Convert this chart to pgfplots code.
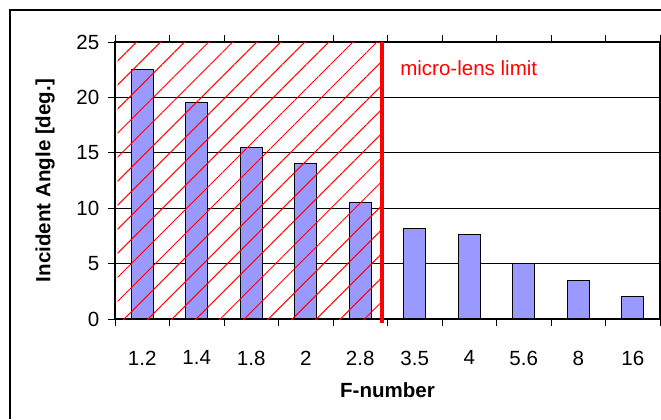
\documentclass[border=0pt]{standalone}
\usepackage{fontspec}
\setmainfont{Liberation Sans}
\usepackage{pgfplots}
\pgfplotsset{compat=1.18}
\usetikzlibrary{patterns.meta}
\definecolor{barblue}{RGB}{153,153,255}

\begin{document}
\begin{tikzpicture}
    % page size 661x419 px, 1px = 0.75pt
    \useasboundingbox (-86.25pt,-75pt) rectangle (409.5pt,239.25pt);
    \draw[line width=0.8pt] (-78.75pt,-75pt) -- (-78.75pt,231.75pt) -- (409.5pt,231.75pt);
    \begin{axis}[
        at={(0,0)}, anchor=south west,
        scale only axis,
        width=408.75pt, height=207.75pt,
        ymin=0, ymax=25,
        xmin=-0.5, xmax=9.5,
        ytick={0,5,...,25},
        xtick={-0.5,0.5,...,9.5},
        x tick label as interval,
        xticklabels={1.2,1.4,1.8,2,2.8,3.5,4,5.6,8,16},
        tick align=outside,
        major tick length=5.25pt,
        tick style={black, line width=0.6pt},
        ymajorgrids,
        grid style={black, line width=0.6pt},
        axis line style={black, line width=1pt},
        /pgf/number format/assume math mode=true,
        tick label style={font=\fontsize{15.4}{18}\selectfont},
        xticklabel style={yshift=-15pt},
        yticklabel style={xshift=-3pt},
        label style={font=\fontsize{15.4}{18}\selectfont\bfseries},
        xlabel={F-number},
        ylabel={Incident Angle [deg.]},
        xlabel style={at={(axis description cs:0.5,-0.2563)}, anchor=center},
        ylabel style={at={(axis description cs:-0.1284,0.5)}, anchor=center},
        clip=false,
    ]
    % Incident angle per F-number
    \addplot[ybar, bar width=0.4, fill=barblue, draw=black, line width=0.8pt] coordinates {
        (0,22.5) (1,19.5) (2,15.5) (3,14) (4,10.5)
        (5,8.2) (6,7.6) (7,5) (8,3.5) (9,2)
    };

    % hatched region left of the micro-lens limit
    \fill[pattern={Lines[angle=45, distance=12.75pt, line width=0.75pt]}, pattern color=red]
        (axis cs:-0.45,0) rectangle (axis cs:4.4,25);
    \draw[red, line width=3.2pt] (axis cs:4.4,25) -- (axis cs:4.4,-0.35);
    \node[anchor=west, red, inner sep=0pt, font=\fontsize{15.4}{18}\selectfont] at (axis cs:4.73,22.6) {micro-lens limit};
    \end{axis}
\end{tikzpicture}
\end{document}
